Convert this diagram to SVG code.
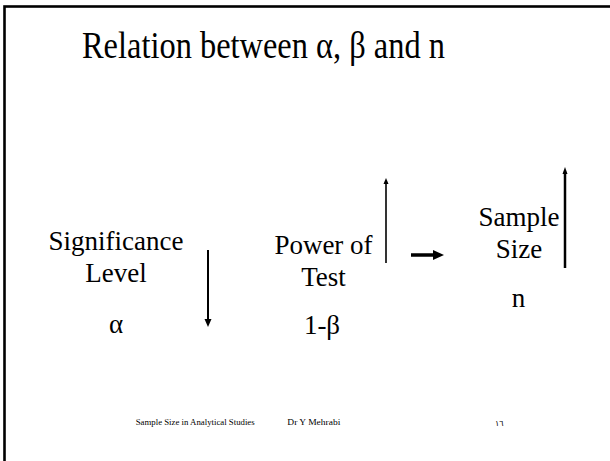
<svg xmlns="http://www.w3.org/2000/svg" width="610" height="461" viewBox="0 0 610 461">
<style>
.t{font-family:"Liberation Serif","Times New Roman",serif;fill:#000}
.b{font-size:27px;text-anchor:middle}
.f{font-size:9px}
.ln{stroke:#000;fill:none}
.hd{fill:#000;stroke:none}
</style>
<rect x="0" y="0" width="610" height="461" fill="#fff"/>
<rect x="4.5" y="6.5" width="700" height="600" fill="none" stroke="#000" stroke-width="2.6"/>
<g id="title"><text class="t" x="82" y="57.5" font-size="37" textLength="363" lengthAdjust="spacingAndGlyphs">Relation between α, β and n</text></g>
<g id="significance">
<text class="t b" x="116" y="250">Significance</text>
<text class="t b" x="116" y="282">Level</text>
<text class="t b" x="116" y="333">α</text>
</g>
<g id="power">
<text class="t b" x="323.5" y="254">Power of</text>
<text class="t b" x="323.5" y="286">Test</text>
<text class="t b" x="322" y="334">1-β</text>
</g>
<g id="sample">
<text class="t b" x="519" y="226">Sample</text>
<text class="t b" x="519" y="258">Size</text>
<text class="t b" x="518.5" y="307">n</text>
</g>
<g id="connectors">
<line class="ln" x1="208" y1="250" x2="208" y2="320" stroke-width="2"/>
<polygon class="hd" points="204.5,319 211.5,319 208,327"/>
<line class="ln" x1="386" y1="263" x2="386" y2="183" stroke-width="1.6"/>
<polygon class="hd" points="383.5,184 388.5,184 386,178"/>
<line class="ln" x1="411" y1="255" x2="434" y2="255" stroke-width="3.5"/>
<polygon class="hd" points="433,250 444,255 433,260"/>
<line class="ln" x1="565" y1="268" x2="565" y2="173" stroke-width="2.5"/>
<polygon class="hd" points="562.5,174 567.5,174 565,167"/>
</g>
<g id="footer">
<text class="t f" x="135.7" y="425" textLength="119" lengthAdjust="spacingAndGlyphs">Sample Size in Analytical Studies</text>
<text class="t f" x="287.3" y="425" textLength="53" lengthAdjust="spacingAndGlyphs">Dr Y Mehrabi</text>
<text x="495" y="426" font-family="DejaVu Sans,sans-serif" font-size="8" fill="#000">١٦</text>
</g>
</svg>
